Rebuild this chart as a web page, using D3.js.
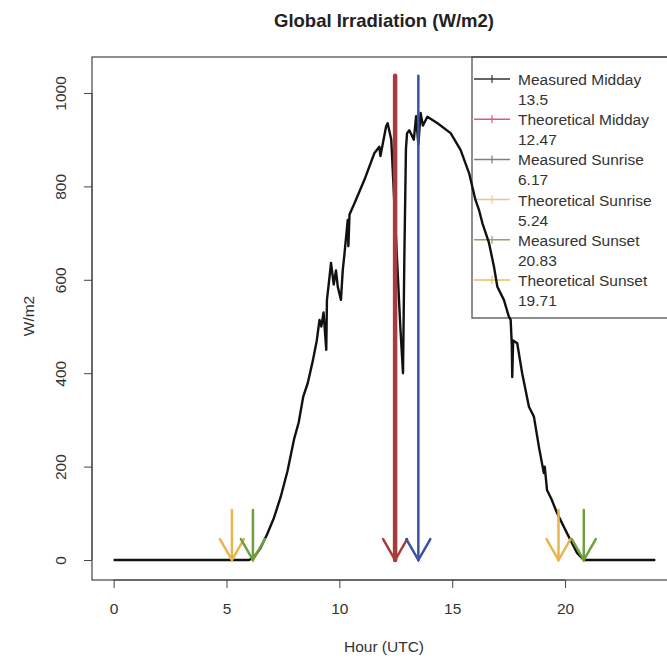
<!DOCTYPE html>
<html>
<head>
<meta charset="utf-8">
<script src="https://cdnjs.cloudflare.com/ajax/libs/d3/7.8.5/d3.min.js"></script>
<style>
  body { margin: 0; background: white; }
  text { font-family: "Liberation Sans", Arial, sans-serif; }
</style>
</head>
<body>
<div id="my_dataviz"></div>
<script>

var hours = [0, 6.0, 6.2, 6.5, 6.8, 7.1, 7.4, 7.7, 8.0, 8.2, 8.4, 8.6, 8.83, 9.0, 9.12, 9.2, 9.3, 9.42,
  9.45, 9.55, 9.63, 9.75, 9.85, 9.93, 10.07, 10.15, 10.23, 10.37, 10.4, 10.45, 10.67, 11.11, 11.55,
  11.77, 11.82, 12.07, 12.14, 12.3, 12.5, 12.7, 12.82, 12.88, 12.95, 13.0, 13.1, 13.3, 13.4, 13.5,
  13.6, 13.7, 13.9, 14.35, 14.93, 15.37, 15.75, 16.03, 16.19, 16.34, 16.63, 16.85, 17.0, 17.29,
  17.51, 17.59, 17.64, 17.66, 17.7, 17.88, 18.1, 18.4, 18.62, 18.85, 19.06, 19.1, 19.2, 19.4,
  19.65, 20.09, 20.53, 20.83, 24];
var irradiance = [0, 0, 5, 25, 55, 90, 135, 190, 260, 295, 350, 379, 428, 470, 514, 500, 530, 450,
  557, 600, 636, 590, 620, 585, 557, 620, 657, 728, 672, 740, 764, 814, 871,
  885, 865, 928, 935, 900, 700, 500, 400, 650, 880, 914, 920, 900, 950, 890,
  957, 930, 949, 935, 914, 878, 828, 771, 749, 721, 679, 628, 585, 557,
  521, 514, 460, 392, 470, 464, 400, 328, 307, 240, 186, 200, 150, 130,
  100, 57, 15, 0, 0];

var legendNames = ["Measured Midday", "Theoretical Midday", "Measured Sunrise",
  "Theoretical Sunrise", "Measured Sunset", "Theoretical Sunset"];
var legendValues = ["13.5", "12.47", "6.17", "5.24", "20.83", "19.71"];
var legendColors = ["#333333", "#dd5a78", "#7a7f88", "#f0c490", "#8da462", "#e6c25a"];

// arrows: hour, top value, colour, width
var arrowHours  = [12.47, 13.5, 5.24, 6.17, 19.71, 20.83];
var arrowTops   = [1037, 1037, 107, 107, 107, 107];
var arrowColors = ["#a83c3c", "#3c52a2", "#e8b450", "#6f9f3f", "#e8b450", "#6f9f3f"];
var arrowWidths = [4.5, 2.5, 2.5, 2.5, 2.5, 2.5];

var xTicks = [0, 5, 10, 15, 20];
var yTicks = [0, 200, 400, 600, 800, 1000];

var width = 667, height = 663;

var svg = d3.select("#my_dataviz")
  .append("svg")
    .attr("width", width)
    .attr("height", height);

var x = d3.scaleLinear().domain([-0.96, 24.96]).range([92, 677]);
var y = d3.scaleLinear().domain([-42.8, 1077]).range([580, 57]);

// title
svg.append("text")
    .attr("x", 384)
    .attr("y", 27)
    .attr("text-anchor", "middle")
    .attr("font-size", 18.5)
    .attr("font-weight", "bold")
    .style("fill", "#222")
    .text("Global Irradiation (W/m2)");

// legend box (transparent, curve shows through)
svg.append("rect")
    .attr("x", 472).attr("y", 57)
    .attr("width", 677 - 472).attr("height", 318 - 57)
    .style("fill", "none")
    .style("stroke", "#444")
    .style("stroke-width", 1.2);

svg.selectAll("leglines")
  .data(legendNames)
  .enter()
  .append("line")
    .attr("x1", 474).attr("x2", 510)
    .attr("y1", function(d, i){ return 79 + i * 40.2; })
    .attr("y2", function(d, i){ return 79 + i * 40.2; })
    .style("stroke", function(d, i){ return legendColors[i]; })
    .style("stroke-width", 1.5);

svg.selectAll("legticks")
  .data(legendNames)
  .enter()
  .append("line")
    .attr("x1", 492).attr("x2", 492)
    .attr("y1", function(d, i){ return 75 + i * 40.2; })
    .attr("y2", function(d, i){ return 83 + i * 40.2; })
    .style("stroke", function(d, i){ return legendColors[i]; })
    .style("stroke-width", 1.2);

svg.selectAll("legnames")
  .data(legendNames)
  .enter()
  .append("text")
    .attr("x", 518)
    .attr("y", function(d, i){ return 81 + i * 40.2; })
    .attr("dominant-baseline", "middle")
    .attr("font-size", 15.5)
    .style("fill", "#333")
    .text(function(d){ return d; });

svg.selectAll("legvalues")
  .data(legendValues)
  .enter()
  .append("text")
    .attr("x", 518)
    .attr("y", function(d, i){ return 101 + i * 40.2; })
    .attr("dominant-baseline", "middle")
    .attr("font-size", 15.5)
    .style("fill", "#333")
    .text(function(d){ return d; });

// curve
var line = d3.line()
    .x(function(d, i){ return x(hours[i]); })
    .y(function(d){ return y(d); });

svg.append("path")
    .datum(irradiance)
    .attr("d", line)
    .style("fill", "none")
    .style("stroke", "#111")
    .style("stroke-width", 2.4)
    .style("stroke-linejoin", "round");

// arrows
arrowHours.forEach(function(h, i){
  var g = svg.append("g")
      .style("stroke", arrowColors[i])
      .style("stroke-width", arrowWidths[i])
      .style("fill", "none")
      .style("stroke-linecap", "round");
  g.append("line")
      .attr("x1", x(h)).attr("y1", y(arrowTops[i]))
      .attr("x2", x(h)).attr("y2", y(0));
  g.append("polyline")
      .attr("points", [[x(h) - 12, y(0) - 21], [x(h), y(0)], [x(h) + 12, y(0) - 21]].join(" "))
      .style("stroke-width", Math.min(arrowWidths[i], 2.5))
      .style("stroke-linejoin", "miter");
});

// box
svg.append("rect")
    .attr("x", 92).attr("y", 57)
    .attr("width", 677 - 92).attr("height", 580 - 57)
    .style("fill", "none")
    .style("stroke", "#444")
    .style("stroke-width", 1.2);

// x axis
var xAxis = svg.append("g")
    .attr("transform", "translate(0,580)")
    .call(d3.axisBottom(x).tickValues(xTicks).tickSize(8).tickPadding(16));
xAxis.select(".domain").attr("d", "M" + x(0) + ",0H" + x(20)).style("stroke", "#444");
xAxis.selectAll(".tick line").style("stroke", "#444");
xAxis.selectAll("text")
    .attr("y", 30)
    .attr("dy", 0)
    .attr("dominant-baseline", "middle")
    .attr("font-size", 15.5)
    .attr("font-family", "Liberation Sans, Arial, sans-serif")
    .attr("fill", "#333");

// y axis
var yAxis = svg.append("g")
    .attr("transform", "translate(92,0)")
    .call(d3.axisLeft(y).tickValues(yTicks).tickSize(8).tickFormat(d3.format("d")));
yAxis.select(".domain").attr("d", "M0," + y(0) + "V" + y(1000)).style("stroke", "#444");
yAxis.selectAll(".tick line").style("stroke", "#444");
yAxis.selectAll("text")
    .attr("x", 0)
    .attr("dy", 0)
    .attr("transform", "translate(-30,0) rotate(-90)")
    .attr("text-anchor", "middle")
    .attr("dominant-baseline", "middle")
    .attr("font-size", 15.5)
    .attr("font-family", "Liberation Sans, Arial, sans-serif")
    .attr("fill", "#333");

// axis titles
svg.append("text")
    .attr("x", 384)
    .attr("y", 648)
    .attr("text-anchor", "middle")
    .attr("dominant-baseline", "middle")
    .attr("font-size", 15.5)
    .style("fill", "#333")
    .text("Hour (UTC)");

svg.append("text")
    .attr("transform", "translate(30,316) rotate(-90)")
    .attr("text-anchor", "middle")
    .attr("dominant-baseline", "middle")
    .attr("font-size", 15.5)
    .style("fill", "#333")
    .text("W/m2");

</script>
</body>
</html>
